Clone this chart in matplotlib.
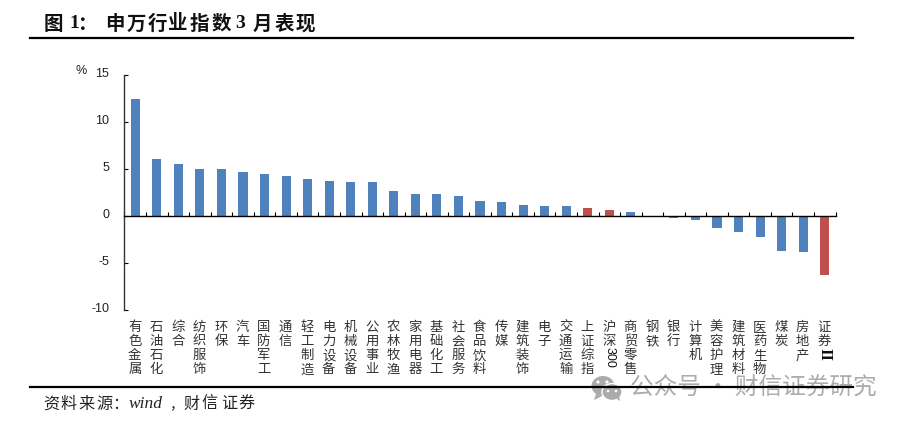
import matplotlib
matplotlib.use("Agg")
import matplotlib.pyplot as plt
from matplotlib.lines import Line2D
from matplotlib.patches import Ellipse, Polygon
from matplotlib.transforms import IdentityTransform, ScaledTranslation

categories = ["有色金属","石油石化","综合","纺织服饰","环保","汽车","国防军工","通信","轻工制造","电力设备",
              "机械设备","公用事业","农林牧渔","家用电器","基础化工","社会服务","食品饮料","传媒","建筑装饰","电子",
              "交通运输","上证综指","沪深","商贸零售","钢铁","银行","计算机","美容护理","建筑材料","医药生物",
              "煤炭","房地产","证券"]
values = [12.4,6.0,5.45,4.95,4.95,4.65,4.4,4.2,3.9,3.7,3.6,3.6,2.6,2.3,2.3,2.05,1.52,1.42,1.1,1.0,
          1.0,0.78,0.57,0.35,0.0,-0.3,-0.5,-1.35,-1.75,-2.25,-3.75,-3.85,-6.3]
highlight = ["上证综指","沪深","证券"]
yticks = [-10,-5,0,5,10,15]

W, H = 907, 424
CJK = ["Noto Sans CJK SC", "DejaVu Sans"]
plt.rcParams["font.family"] = CJK
fig = plt.figure(figsize=(W/100, H/100), dpi=100)
L, R, T, B = 124.5, 835.5, 74.5, 309.5
ax = fig.add_axes([L/W, 1-B/H, (R-L)/W, (B-T)/H])
n = len(categories)
colors = ["#C0504D" if c in highlight else "#4F81BD" for c in categories]
ax.bar(range(n), values, width=0.42, color=colors, zorder=2)
ax.set_xlim(-0.5, n-0.5)
ax.set_ylim(-10, 15)
for s in ("top","right"):
    ax.spines[s].set_visible(False)
ax.spines["bottom"].set_position(("data",0))
ax.spines["bottom"].set_linewidth(1.0)
ax.spines["left"].set_linewidth(1.0)
ax.spines["left"].set_color("#333333")
ax.set_xticks([i-0.5 for i in range(n+1)])
ax.set_xticklabels([])
ax.tick_params(axis="x", direction="in", length=3, width=0.8)
ax.set_yticks(yticks)
ax.set_yticklabels([str(v) for v in yticks], family="Liberation Sans", fontsize=9, color="#222222")
ax.tick_params(axis="y", direction="in", length=3, width=0.8, pad=11)
up = ScaledTranslation(0, 1.2/72, fig.dpi_scale_trans)
for lab in ax.get_yticklabels():
    lab.set_transform(lab.get_transform() + up)
ax.patch.set_alpha(0)

def px(x, y):
    return x/W, 1-y/H

char_pitch = 14.1
for i, c in enumerate(categories):
    xc = L + (i+0.5)*(R-L)/n
    for j, ch in enumerate(c):
        fig.text(*px(xc-0.5, 327+j*char_pitch), ch, ha="center", va="center", fontsize=9.6, color="#333333")
    if c == "沪深":
        fig.text(*px(xc, 357.5), "300", rotation=-90, ha="center", va="center",
                 family="Liberation Sans", fontsize=9, color="#111111")
    if c == "证券":
        fig.text(*px(xc, 354), "II", rotation=-90, ha="center", va="center",
                 family="Liberation Serif", fontsize=12, color="#111111", fontweight="bold")

fig.text(*px(81, 71), "%", ha="center", va="center", family="Liberation Sans", fontsize=9, color="#222222")

title_chars = ["图","1","：","申","万","行","业","指","数","3","月","表","现"]
title_x = [53,74,88,115,136,157,178,199,221,240,262,284,305]
for ch, x in zip(title_chars, title_x):
    fam = "Liberation Serif" if ch in "13" else "Noto Sans CJK SC"
    fig.text(*px(x, 24), ch, ha="center", va="center", fontsize=14, fontweight="bold",
             color="#111111", family=fam)

fig.add_artist(Line2D([30/W, 853/W], [1-38/H]*2, color="black", lw=1.6, zorder=6))
fig.add_artist(Line2D([30/W, 853/W], [1-387/H]*2, color="black", lw=1.6, zorder=6))

src_chars = ["资","料","来","源","：","wind","，","财","信","证","券"]
src_x = [51,69,86,104,120,146,176,192,210,229,247]
for ch, x in zip(src_chars, src_x):
    fig.text(*px(x, 404.5), ch, ha="center", va="center", fontsize=(11.6 if ch != "wind" else 12.5) if ch != "，" else 10,
             style="italic", color="#222222",
             family="Liberation Serif" if ch == "wind" else "Noto Sans CJK SC")

# watermark
wm = "#ababab"
tf = IdentityTransform()
fig.add_artist(Ellipse((603, H-386), 23, 20, color=wm, transform=tf, lw=0))
fig.add_artist(Polygon([(596,H-394),(594,H-400),(602,H-396)], color=wm, transform=tf, lw=0))
fig.add_artist(Ellipse((612, H-392), 20, 17, color=wm, ec="white", lw=1, transform=tf))
fig.add_artist(Polygon([(617,H-399),(620,H-401),(619,H-395)], color=wm, transform=tf, lw=0))
for cx, cy, d in [(598,382,3.2),(607,382,3.2),(608,391,2.6),(616,391,2.6)]:
    fig.add_artist(Ellipse((cx, H-cy), d, d, color="white", transform=tf, lw=0))
fig.text(*px(630, 388.5), "公众号 · 财信证券研究", ha="left", va="center", fontsize=17, color="#a8a8a8", alpha=0.95)

fig.savefig("out.png", dpi=100)
